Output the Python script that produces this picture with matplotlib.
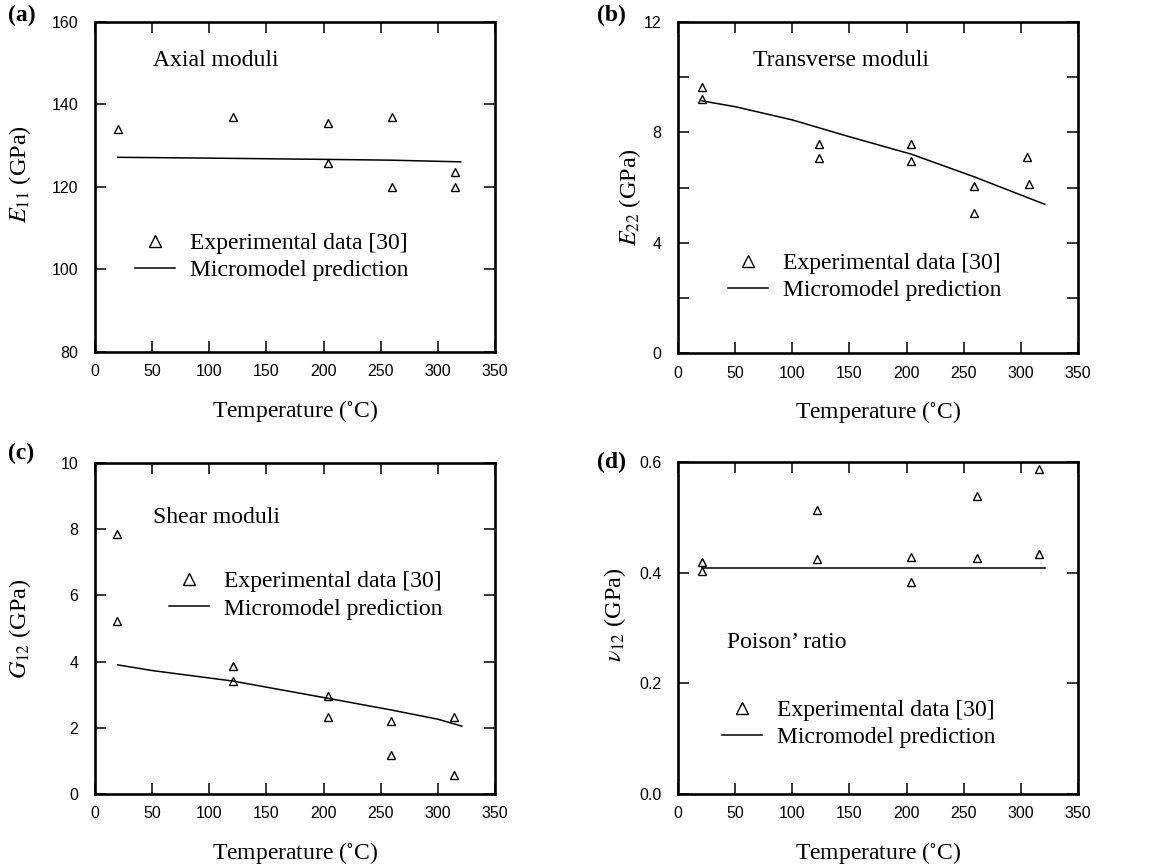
import numpy as np
import matplotlib
matplotlib.use('Agg')
import matplotlib.pyplot as plt
from matplotlib.ticker import MultipleLocator

plt.rcParams['font.family'] = 'Liberation Serif'
plt.rcParams['mathtext.fontset'] = 'stix'

# temperature-dependent moduli of the composite, test data vs micromodel

# (a) axial modulus E11
e11_temp = [20, 121, 204, 204, 260, 260, 315, 315]
e11_exp = [134, 137, 135.4, 125.8, 137, 120, 123.6, 120]
e11_model_temp = [20, 100, 200, 260, 320]
e11_model = [127.2, 127.0, 126.7, 126.5, 126.1]

# (b) transverse modulus E22
e22_temp = [21, 21, 123, 123, 204, 204, 259, 259, 305, 307]
e22_exp = [9.63, 9.22, 7.58, 7.07, 7.58, 6.96, 6.07, 5.06, 7.11, 6.12]
e22_model_temp = [21, 50, 100, 150, 204, 259, 321]
e22_model = [9.14, 8.93, 8.45, 7.84, 7.21, 6.39, 5.39]

# (c) shear modulus G12
g12_temp = [19, 19, 121, 121, 204, 204, 259, 259, 314, 314]
g12_exp = [7.85, 5.24, 3.87, 3.42, 2.96, 2.34, 2.21, 1.18, 2.34, 0.57]
g12_model_temp = [20, 50, 121, 204, 259, 300, 321]
g12_model = [3.90, 3.73, 3.41, 2.89, 2.54, 2.26, 2.05]

# (d) Poisson's ratio v12
v12_temp = [21, 21, 122, 122, 204, 204, 262, 262, 316, 316]
v12_exp = [0.419, 0.403, 0.513, 0.425, 0.428, 0.383, 0.539, 0.427, 0.587, 0.434]
v12_model_temp = [21, 321]
v12_model = [0.408, 0.408]

fig = plt.figure(figsize=(11.5, 8.67), dpi=100)

W, H = 1150.0, 867.0


def make_axes(left, top, right, bottom):
    return fig.add_axes([left / W, 1 - bottom / H, (right - left) / W, (bottom - top) / H])


def style(ax, ylim, ystep, yfmt, yminor=None):
    ax.set_xlim(0, 350)
    ax.set_ylim(*ylim)
    ax.xaxis.set_major_locator(MultipleLocator(50))
    ax.yaxis.set_major_locator(MultipleLocator(ystep))
    if yminor:
        ax.yaxis.set_minor_locator(MultipleLocator(yminor))
    ax.yaxis.set_major_formatter(yfmt)
    ax.tick_params(which='both', direction='in', top=True, right=True,
                   length=8, width=1.1)
    ax.tick_params(axis='x', pad=9)
    ax.tick_params(axis='y', pad=12)
    for lab in ax.get_xticklabels() + ax.get_yticklabels():
        lab.set_fontfamily('Liberation Sans')
        lab.set_fontsize(11.5)
    for sp in ax.spines.values():
        sp.set_linewidth(1.9)
    ax.set_xlabel(r'Temperature ($^{\circ}$C)', fontsize=17, labelpad=13)


def draw(ax, t, v, mt, mv, legpos):
    ax.plot(t, v, linestyle='none', marker='^', markersize=5.5,
            markerfacecolor='none', markeredgecolor='black', markeredgewidth=1.0,
            label='Experimental data [30]')
    ax.plot(mt, mv, color='black', linewidth=1.1, label='Micromodel prediction')
    ax.legend(loc='center left', bbox_to_anchor=legpos, frameon=False,
              fontsize=17, numpoints=1, markerscale=1.55, handlelength=1.7,
              handletextpad=0.65, labelspacing=0.25, borderpad=0, borderaxespad=0)


fmt_int = lambda v, pos: '%d' % v
fmt_1 = lambda v, pos: '%.1f' % v

ax_a = make_axes(95, 22, 495, 352)
draw(ax_a, e11_temp, e11_exp, e11_model_temp, e11_model, (0.10, 0.288))
style(ax_a, (80, 160), 20, plt.FuncFormatter(fmt_int))
ax_a.set_ylabel(r'$E_{11}$ (GPa)', fontsize=17.5)
ax_a.yaxis.set_label_coords(-0.155, 0.538)
ax_a.text(0.145, 0.882, 'Axial moduli', transform=ax_a.transAxes,
          fontsize=17, va='center')

ax_b = make_axes(678, 22, 1078, 353)
draw(ax_b, e22_temp, e22_exp, e22_model_temp, e22_model, (0.125, 0.23))
style(ax_b, (0, 12), 4, plt.FuncFormatter(fmt_int), yminor=2)
ax_b.set_ylabel(r'$E_{22}$ (GPa)', fontsize=17.5)
ax_b.yaxis.set_label_coords(-0.0875, 0.47)
ax_b.text(0.188, 0.885, 'Transverse moduli', transform=ax_b.transAxes,
          fontsize=17, va='center')

ax_c = make_axes(95, 463, 495, 794)
draw(ax_c, g12_temp, g12_exp, g12_model_temp, g12_model, (0.185, 0.601))
style(ax_c, (0, 10), 2, plt.FuncFormatter(fmt_int))
ax_c.set_ylabel(r'$G_{12}$ (GPa)', fontsize=17.5)
ax_c.yaxis.set_label_coords(-0.155, 0.5)
ax_c.text(0.144, 0.836, 'Shear moduli', transform=ax_c.transAxes,
          fontsize=17, va='center')

ax_d = make_axes(678, 462, 1078, 794)
draw(ax_d, v12_temp, v12_exp, v12_model_temp, v12_model, (0.109, 0.211))
style(ax_d, (0, 0.6), 0.2, plt.FuncFormatter(fmt_1))
ax_d.set_ylabel(r'$\nu_{12}$ (GPa)', fontsize=17.5)
ax_d.yaxis.set_label_coords(-0.125, 0.54)
ax_d.text(0.122, 0.455, 'Poison\u2019 ratio', transform=ax_d.transAxes,
          fontsize=17, va='center')

# panel letters
for txt, x, y in [('(a)', 8, 15), ('(b)', 597, 15), ('(c)', 8, 453), ('(d)', 597, 462)]:
    fig.text(x / W, 1 - y / H, txt, fontsize=17, fontweight='bold',
             ha='left', va='center')

fig.savefig('out.png', dpi=100)
